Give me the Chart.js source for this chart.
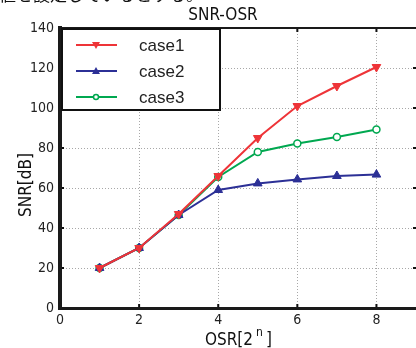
<!DOCTYPE html>
<html>
<head>
<meta charset="utf-8">
<script src="https://cdn.jsdelivr.net/npm/chart.js@4"></script>
<style>
  body { margin: 0; background: #fff; }
  #wrap { width: 416px; height: 348px; }
</style>
</head>
<body>
<div id="wrap"><canvas id="snrChart" width="416" height="348"></canvas></div>
<script>
const osr = [1, 2, 3, 4, 5, 6, 7, 8];
const case1 = [20, 30, 47, 66, 85, 101, 111, 120.5];
const case2 = [20, 30, 46.5, 59, 62.3, 64.3, 66, 66.7];
const case3 = [20, 30, 46.5, 65.5, 78, 82.3, 85.5, 89.3];
const xTicks = [0, 2, 4, 6, 8];
const yTicks = [0, 20, 40, 60, 80, 100, 120, 140];
const seriesNames = ['case1', 'case2', 'case3'];

const RED = 'rgb(238,52,56)';
const BLUE = 'rgb(44,48,150)';
const GREEN = 'rgb(0,168,80)';
const NARROW = '"Liberation Sans Narrow", "DejaVu Sans Condensed", "Liberation Sans", sans-serif';

const toXY = (ys) => osr.map((x, i) => ({ x: x, y: ys[i] }));

// frame, legend box and the text around the plot
const decor = {
    id: 'decor',
    afterDraw(chart) {
        const c = chart.ctx;
        const a = chart.chartArea;
        const xs = chart.scales.x, ys = chart.scales.y;
        c.save();

        // tick marks inward
        c.fillStyle = '#111';
        xTicks.forEach(v => {
            const px = xs.getPixelForValue(v);
            c.fillRect(px - 1, a.top, 2, 4);
            c.fillRect(px - 1, a.bottom - 4, 2, 4);
        });
        yTicks.forEach(v => {
            const py = ys.getPixelForValue(v);
            c.fillRect(a.left, py - 1, 4, 2);
            c.fillRect(a.right - 3, py - 1, 4, 2);
        });

        // axes box
        c.fillStyle = '#1a1a1a';
        c.fillRect(a.left - 2, a.top - 2, 4, a.bottom - a.top + 4);
        c.fillRect(a.left - 2, a.bottom - 1, a.right - a.left + 4, 3);
        c.fillRect(a.left - 2, a.top - 1, a.right - a.left + 4, 2);

        // legend
        const lx = 62, ly = 29, lw = 158, lh = 81;
        c.fillStyle = '#fff';
        c.fillRect(lx, ly, lw, lh);
        c.strokeStyle = '#111';
        c.lineWidth = 2;
        c.strokeRect(lx, ly, lw, lh);
        const rows = [45, 71, 97];
        const colors = [RED, BLUE, GREEN];
        rows.forEach((y, i) => {
            c.strokeStyle = colors[i];
            c.lineWidth = 2;
            c.beginPath();
            c.moveTo(76, y);
            c.lineTo(117, y);
            c.stroke();
            c.fillStyle = colors[i];
            if (i === 0) {
                c.beginPath();
                c.moveTo(92, y - 3); c.lineTo(100, y - 3); c.lineTo(96, y + 4);
                c.closePath(); c.fill();
            } else if (i === 1) {
                c.beginPath();
                c.moveTo(92, y + 3); c.lineTo(100, y + 3); c.lineTo(96, y - 4);
                c.closePath(); c.fill();
            } else {
                c.beginPath();
                c.arc(96, y, 2.5, 0, Math.PI * 2);
                c.fillStyle = '#fff'; c.fill();
                c.lineWidth = 1.5; c.stroke();
            }
            c.fillStyle = '#222';
            c.font = '17px "Liberation Sans", sans-serif';
            c.textBaseline = 'middle';
            c.textAlign = 'left';
            c.fillText(seriesNames[i], 139, y + 1);
        });

        // title
        c.fillStyle = '#111';
        c.font = '17px ' + NARROW;
        c.textAlign = 'center';
        c.textBaseline = 'middle';
        c.fillText('SNR-OSR', 223, 16);

        // y title
        c.save();
        c.translate(27, 185);
        c.rotate(-Math.PI / 2);
        c.fillText('SNR[dB]', 0, 0);
        c.restore();

        // x title with superscript
        c.textAlign = 'left';
        c.textBaseline = 'alphabetic';
        c.font = '17px ' + NARROW;
        let x0 = 205;
        const base = 345;
        c.fillText('OSR[2', x0, base);
        x0 += c.measureText('OSR[2').width + 3;
        c.font = '12px ' + NARROW;
        c.fillText('n', x0, base - 9);
        x0 += c.measureText('n').width + 3;
        c.font = '17px ' + NARROW;
        c.fillText(']', x0, base);

        // cut-off line of body text above the figure
        c.font = '17px "Noto Sans CJK JP", sans-serif';
        c.fillStyle = '#111';
        c.fillText('値を設定しているとする。', -1, 1);

        c.restore();
    }
};

new Chart(document.getElementById('snrChart'), {
    type: 'line',
    data: {
        datasets: [
            {
                label: seriesNames[0],
                data: toXY(case1),
                borderColor: RED,
                backgroundColor: RED,
                borderWidth: 2,
                pointStyle: 'triangle',
                rotation: 180,
                pointRadius: 5,
                pointBorderWidth: 1
            },
            {
                label: seriesNames[1],
                data: toXY(case2),
                borderColor: BLUE,
                backgroundColor: BLUE,
                borderWidth: 2,
                pointStyle: 'triangle',
                pointRadius: 5,
                pointBorderWidth: 1
            },
            {
                label: seriesNames[2],
                data: toXY(case3),
                borderColor: GREEN,
                backgroundColor: '#fff',
                borderWidth: 2,
                pointStyle: 'circle',
                pointRadius: 3.5,
                pointBorderWidth: 1.5
            }
        ]
    },
    options: {
        responsive: false,
        animation: false,
        layout: { autoPadding: false, padding: { top: 28, right: 0, left: 0, bottom: 0 } },
        plugins: {
            legend: { display: false },
            title: { display: false },
            tooltip: { enabled: false }
        },
        scales: {
            x: {
                type: 'linear',
                min: 0,
                max: 9,
                afterFit(s) { s.height = 40; s.paddingRight = 0; s.paddingLeft = 0; },
                afterBuildTicks(s) { s.ticks = xTicks.map(v => ({ value: v })); },
                grid: { color: '#a8a8a8', lineWidth: 1, drawTicks: false },
                border: { display: false, dash: [1, 2] },
                ticks: {
                    padding: 4,
                    color: '#222',
                    font: { family: NARROW, size: 14 },
                    maxRotation: 0
                }
            },
            y: {
                min: 0,
                max: 140,
                afterFit(s) { s.width = 60; },
                afterBuildTicks(s) { s.ticks = yTicks.map(v => ({ value: v })); },
                grid: { color: '#a8a8a8', lineWidth: 1, drawTicks: false },
                border: { display: false, dash: [1, 2] },
                ticks: {
                    padding: 6,
                    color: '#222',
                    font: { family: NARROW, size: 14 }
                }
            }
        }
    },
    plugins: [decor]
});
</script>
</body>
</html>
